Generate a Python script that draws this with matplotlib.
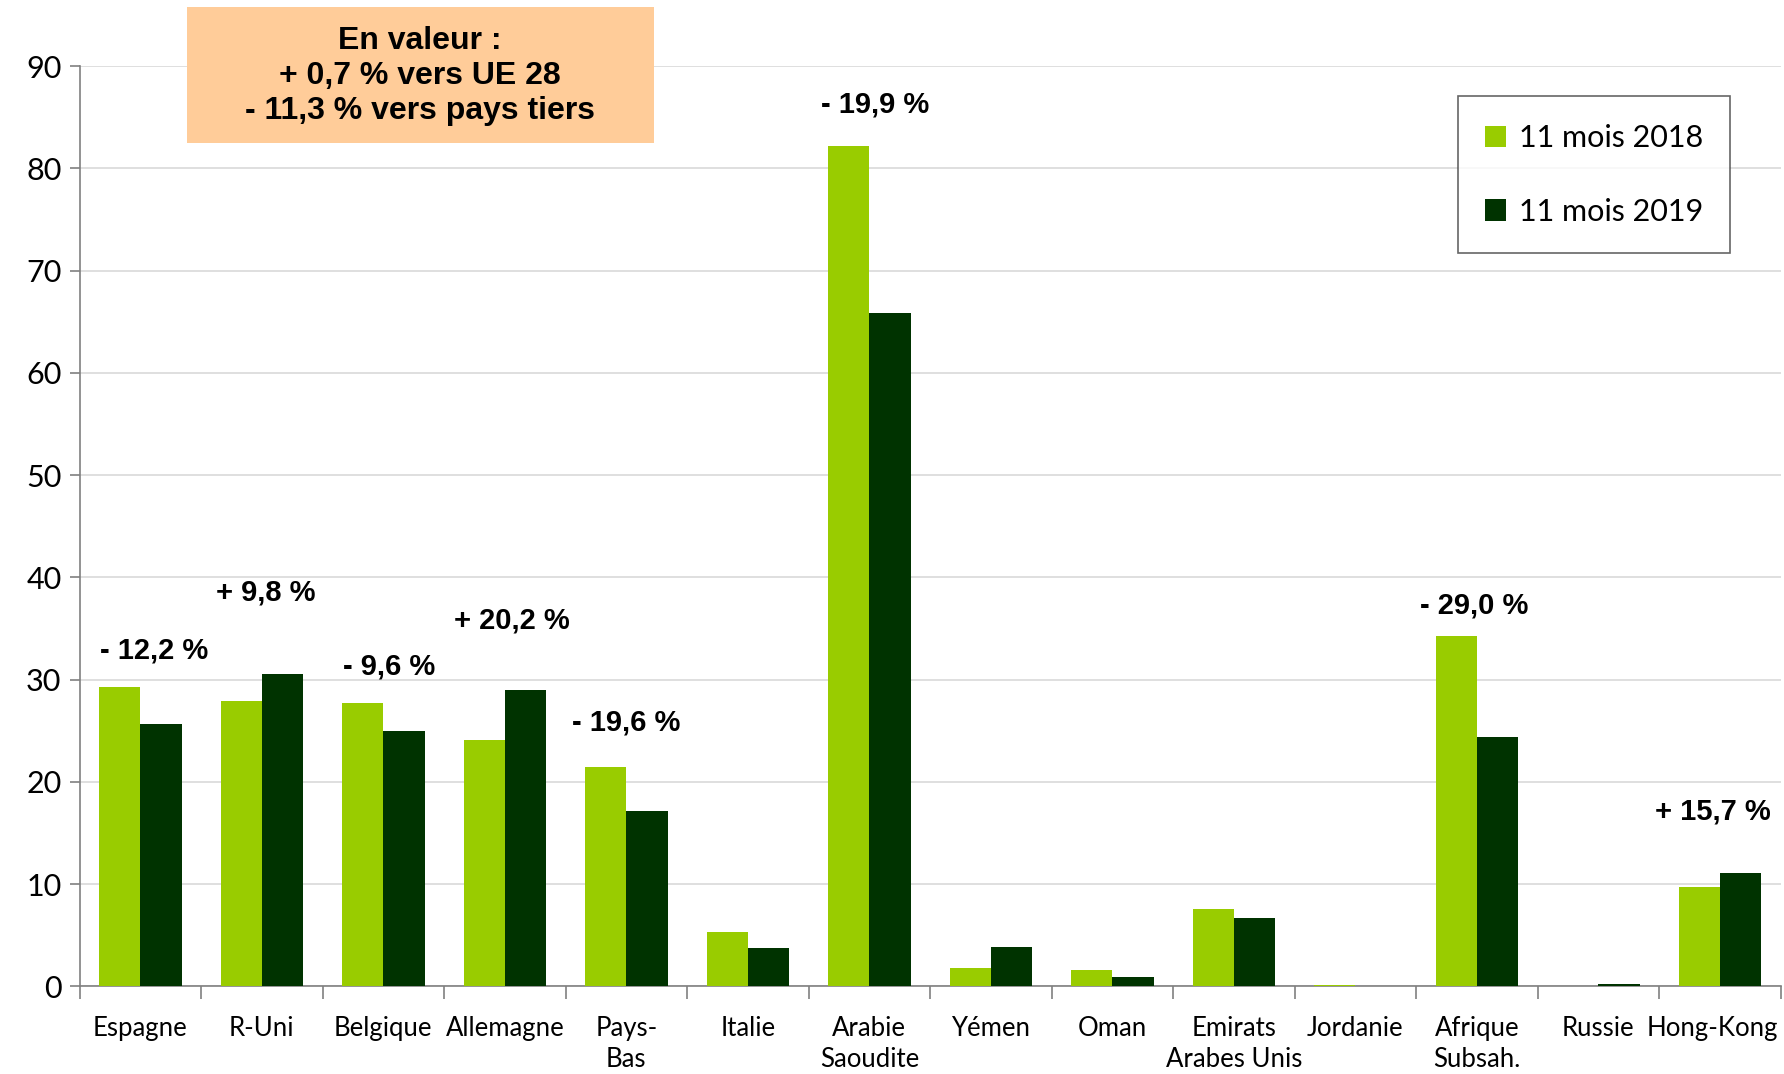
import numpy as np
import matplotlib
matplotlib.use("Agg")
import matplotlib.pyplot as plt
from matplotlib.patches import Rectangle
from matplotlib.transforms import ScaledTranslation

# données
pays = ["Espagne", "R-Uni", "Belgique", "Allemagne", "Pays-\nBas", "Italie",
        "Arabie\nSaoudite", "Yémen", "Oman", "Emirats\nArabes Unis", "Jordanie",
        "Afrique\nSubsah.", "Russie", "Hong-Kong"]
v2018 = [29.3, 27.9, 27.7, 24.1, 21.5, 5.3, 82.2, 1.8, 1.6, 7.6, 0.1, 34.3, 0.02, 9.7]
v2019 = [25.7, 30.6, 25.0, 29.0, 17.2, 3.8, 65.9, 3.9, 0.9, 6.7, 0.0, 24.4, 0.2, 11.1]
evol_idx = [0, 1, 2, 3, 4, 6, 11, 13]
evol_txt = ["- 12,2 %", "+ 9,8 %", "- 9,6 %", "+ 20,2 %", "- 19,6 %", "- 19,9 %", "- 29,0 %", "+ 15,7 %"]
evol_y = [32.9, 38.5, 31.3, 35.8, 25.8, 86.2, 37.3, 17.1]
encadre = "En valeur :\n+ 0,7 % vers UE 28\n- 11,3 % vers pays tiers"

# décalages horizontaux des étiquettes (mise en page)
evol_dx = [0.11, 0.03, 0.05, 0.06, 0.0, 0.05, -0.02, -0.06]

VERT_CLAIR = "#99cc00"
VERT_FONCE = "#003300"

fig = plt.figure(figsize=(17.84, 10.74), dpi=100)
ax = fig.add_axes([0.0446, 0.0815, 0.9535, 0.857])

x = np.arange(len(pays))
w = 0.34
ax.bar(x - w / 2, v2018, w, color=VERT_CLAIR, label="11 mois 2018", zorder=3)
ax.bar(x + w / 2, v2019, w, color=VERT_FONCE, label="11 mois 2019", zorder=3)

ax.set_xlim(-0.5, len(pays) - 0.5)
ax.set_ylim(0, 90)
ax.set_yticks(range(0, 91, 10))
ax.yaxis.grid(True, color="#d9d9d9", lw=1.2, zorder=0)
ax.set_axisbelow(True)
for s in ["top", "right"]:
    ax.spines[s].set_visible(False)
ax.spines["left"].set_color("#808080")
ax.spines["bottom"].set_color("#808080")
ax.spines["left"].set_linewidth(1.2)
ax.spines["bottom"].set_linewidth(1.2)

ax.set_xticks(x)
ax.set_xticklabels(pays, fontsize=18.5, family="Lato", linespacing=1.3)
ax.set_xticks(np.arange(-0.5, len(pays), 1), minor=True)
ax.tick_params(axis="x", which="major", length=0, pad=21)
ax.tick_params(axis="x", which="minor", length=9, color="#808080", width=1.2)
ax.tick_params(axis="y", length=7, color="#808080", width=1.2, labelsize=22, pad=6)
for t in ax.get_yticklabels():
    t.set_family("Lato")
# Hong-Kong : léger recul pour rester dans le cadre
lab = ax.xaxis.get_major_ticks()[-1].label1
lab.set_transform(lab.get_transform() + ScaledTranslation(-0.07, 0, fig.dpi_scale_trans))

for i, dx, txt, yy in zip(evol_idx, evol_dx, evol_txt, evol_y):
    ax.text(i + dx, yy, txt, ha="center", va="center", fontsize=21,
            fontweight="bold", family="Liberation Sans")

# encadré
fig.patches.append(Rectangle((186.6 / 1784, 1 - 143 / 1074), (654 - 186.6) / 1784, (143 - 6.8) / 1074,
                             transform=fig.transFigure, facecolor="#ffcc99", edgecolor="none", zorder=5))
fig.text(420 / 1784, 1 - 76 / 1074, encadre, ha="center", va="center", fontsize=23,
         fontweight="bold", family="Liberation Sans", linespacing=1.2, zorder=6)

leg = ax.legend(loc="upper right", bbox_to_anchor=(0.9705, 0.967),
                prop={"family": "Lato", "size": 22}, frameon=True, fancybox=False,
                edgecolor="#404040", handlelength=0.7, handleheight=0.7, handletextpad=0.4,
                labelspacing=1.5, borderpad=0.9, borderaxespad=0)
leg.get_frame().set_linewidth(1.2)

fig.savefig("out.png", dpi=100)
